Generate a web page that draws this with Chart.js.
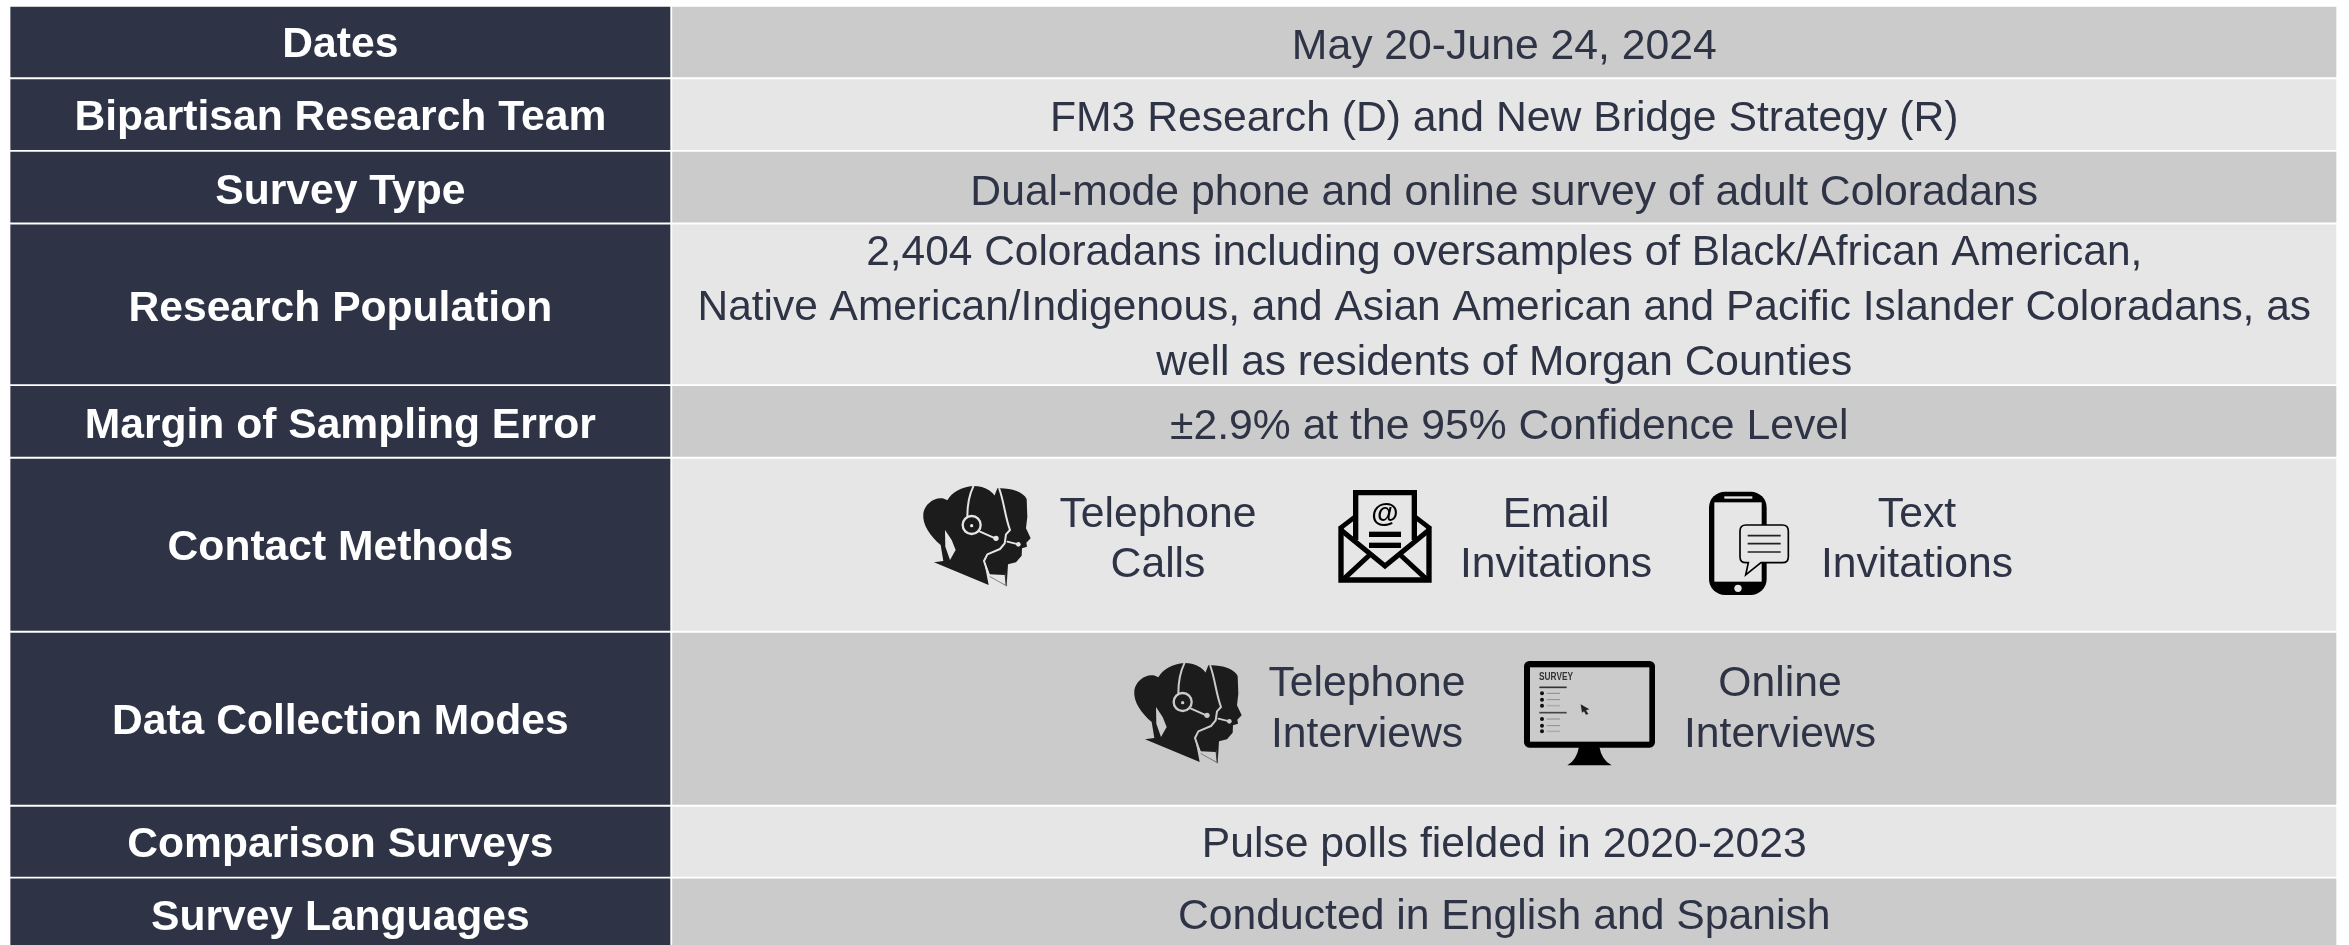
<!DOCTYPE html>
<html>
<head>
<meta charset="utf-8">
<title>Survey methodology</title>
<script src="https://cdn.jsdelivr.net/npm/chart.js@4"></script>
<style>
    html, body { margin: 0; padding: 0; background: #ffffff; overflow: hidden; }
    canvas { display: block; }
</style>
</head>
<body>
<canvas id="table-chart" width="2349" height="945"></canvas>
<script>
// Table contents
const rowLabels = ['Dates', 'Bipartisan Research Team', 'Survey Type', 'Research Population', 'Margin of Sampling Error', 'Contact Methods', 'Data Collection Modes', 'Comparison Surveys', 'Survey Languages'];
const rowHeights = [70, 70, 70, 159, 70, 171.5, 171.3, 69.3, 70];
const rowTexts = [
    ['May 20-June 24, 2024'],
    ['FM3 Research (D) and New Bridge Strategy (R)'],
    ['Dual-mode phone and online survey of adult Coloradans'],
    ['2,404 Coloradans including oversamples of Black/African American,', 'Native American/Indigenous, and Asian American and Pacific Islander Coloradans, as', 'well as residents of Morgan Counties'],
    ['±2.9% at the 95% Confidence Level'],
    [],
    [],
    ['Pulse polls fielded in 2020-2023'],
    ['Conducted in English and Spanish']
];
const contactLabels = [['Telephone', 'Calls'], ['Email', 'Invitations'], ['Text', 'Invitations']];
const modeLabels = [['Telephone', 'Interviews'], ['Online', 'Interviews']];

const tableTop = 7;
const rowGap = 2.6;
const labelColumn = [10.7, 670];
const valueColumn = [672.5, 2336];

// Small per-row text corrections, the source is not set on a perfectly even grid
const labelNudge = [0, 0, 1.5, 1.5, 1.5, 0, 0, 0, 1];
const textNudge = [1.5, 1.5, 3, 1, 3, 0, 0, 0, 0];

const DARK = '#2e3446';
const LIGHT = '#e6e6e6';
const MID = '#cbcbcb';
const INK = '#1c1c1c';
const FONT = '"Liberation Sans", Arial, sans-serif';

// Center of each row on the y axis
const rowCenters = [];
let cursorY = tableTop;
rowHeights.forEach(h => {
    rowCenters.push(cursorY + h / 2);
    cursorY += h + rowGap;
});

function rowColor(i) {
    return i % 2 === 0 ? MID : LIGHT;
}

// One pair of floating bars per row, since barThickness is set per dataset
const datasets = [];
rowLabels.forEach((label, i) => {
    datasets.push({
        label: label,
        data: [{ x: labelColumn, y: rowCenters[i] }],
        backgroundColor: DARK,
        barThickness: rowHeights[i],
        grouped: false
    });
    datasets.push({
        label: label + ' value',
        data: [{ x: valueColumn, y: rowCenters[i] }],
        backgroundColor: rowColor(i),
        barThickness: rowHeights[i],
        grouped: false
    });
});

function line(ctx, points, width, color) {
    ctx.beginPath();
    points.forEach((p, i) => i ? ctx.lineTo(p[0], p[1]) : ctx.moveTo(p[0], p[1]));
    ctx.lineWidth = width;
    ctx.strokeStyle = color;
    ctx.stroke();
}

function fillPoly(ctx, points, color) {
    ctx.beginPath();
    points.forEach((p, i) => i ? ctx.lineTo(p[0], p[1]) : ctx.moveTo(p[0], p[1]));
    ctx.closePath();
    ctx.fillStyle = color;
    ctx.fill();
}

// Icons are drawn in the 3x coordinates of the crop they were measured on
function drawAgents(ctx, x, y, bg) {
    ctx.save();
    ctx.translate(x, y);
    ctx.scale(1 / 3, 1 / 3);
    ctx.lineJoin = 'round';
    ctx.lineCap = 'round';

    // back head
    ctx.beginPath();
    ctx.moveTo(262, 40);
    ctx.bezierCurveTo(300, 38, 340, 50, 350, 72);
    ctx.lineTo(352, 125);
    ctx.lineTo(348, 160);
    ctx.lineTo(362, 190);
    ctx.lineTo(349, 203);
    ctx.lineTo(351, 215);
    ctx.lineTo(336, 220);
    ctx.lineTo(335, 242);
    ctx.lineTo(318, 262);
    ctx.lineTo(294, 268);
    ctx.lineTo(290, 332);
    ctx.lineTo(240, 300);
    ctx.lineTo(200, 200);
    ctx.closePath();
    ctx.fillStyle = INK;
    ctx.fill();

    // front head with ponytail
    ctx.beginPath();
    ctx.moveTo(190, 33);
    ctx.bezierCurveTo(225, 33, 258, 50, 268, 90);
    ctx.bezierCurveTo(272, 120, 285, 145, 300, 165);
    ctx.lineTo(286, 177);
    ctx.lineTo(284, 200);
    ctx.lineTo(270, 217);
    ctx.lineTo(232, 233);
    ctx.lineTo(222, 258);
    ctx.lineTo(236, 330);
    ctx.lineTo(72, 262);
    ctx.lineTo(100, 258);
    ctx.lineTo(92, 210);
    ctx.bezierCurveTo(62, 185, 36, 150, 40, 115);
    ctx.bezierCurveTo(45, 82, 85, 58, 112, 76);
    ctx.bezierCurveTo(125, 52, 155, 36, 190, 33);
    ctx.closePath();
    ctx.fill();

    // outline between the two heads
    ctx.beginPath();
    ctx.moveTo(268, 42);
    ctx.bezierCurveTo(282, 80, 285, 125, 300, 165);
    ctx.lineTo(288, 178);
    ctx.lineTo(284, 205);
    ctx.lineTo(270, 222);
    ctx.lineTo(232, 238);
    ctx.lineTo(222, 258);
    ctx.lineTo(238, 305);
    ctx.lineWidth = 6;
    ctx.strokeStyle = bg;
    ctx.stroke();

    // white collar
    fillPoly(ctx, [[240, 305], [287, 330], [284, 300], [238, 298]], bg);
    line(ctx, [[240, 305], [290, 333], [286, 296]], 2, '#555555');

    // cut out in the hair
    fillPoly(ctx, [[105, 165], [125, 195], [137, 225], [120, 255], [106, 215]], bg);

    // headset
    ctx.beginPath();
    ctx.moveTo(190, 34);
    ctx.bezierCurveTo(175, 65, 172, 95, 172, 124);
    ctx.lineWidth = 6;
    ctx.strokeStyle = bg;
    ctx.stroke();
    ctx.beginPath();
    ctx.arc(185, 150, 27, 0, Math.PI * 2);
    ctx.lineWidth = 7;
    ctx.stroke();
    ctx.beginPath();
    ctx.arc(185, 152, 5, 0, Math.PI * 2);
    ctx.fillStyle = bg;
    ctx.fill();
    line(ctx, [[210, 170], [256, 190]], 6, bg);
    ctx.beginPath();
    ctx.arc(258, 190, 8, 0, Math.PI * 2);
    ctx.fill();
    line(ctx, [[292, 200], [325, 208]], 5, bg);
    ctx.beginPath();
    ctx.arc(325, 208, 7, 0, Math.PI * 2);
    ctx.fill();
    ctx.restore();
}

function drawEmail(ctx, x, y) {
    ctx.save();
    ctx.translate(x, y);
    ctx.scale(1 / 3, 1 / 3);
    ctx.lineJoin = 'miter';
    const black = '#000000';
    // envelope is open at the top, only the flap lines close it
    line(ctx, [[48, 140], [48, 300], [312, 300], [312, 140]], 16, black);
    line(ctx, [[92, 180], [92, 38], [268, 38], [268, 180]], 16, black);
    line(ctx, [[44, 146], [88, 112]], 14, black);
    line(ctx, [[316, 146], [272, 112]], 14, black);
    line(ctx, [[48, 150], [180, 258], [312, 150]], 15, black);
    line(ctx, [[55, 298], [137, 222]], 15, black);
    line(ctx, [[305, 298], [223, 222]], 15, black);
    line(ctx, [[132, 163], [228, 163]], 16, black);
    line(ctx, [[132, 196], [228, 196]], 16, black);
    ctx.restore();

    ctx.save();
    ctx.fillStyle = black;
    ctx.font = 'bold 28px ' + FONT;
    ctx.textAlign = 'center';
    ctx.textBaseline = 'middle';
    ctx.fillText('@', x + 60, y + 34);
    ctx.restore();
}

function drawPhone(ctx, x, y, bg) {
    ctx.save();
    ctx.translate(x, y);
    ctx.scale(1 / 3, 1 / 3);
    ctx.fillStyle = '#000000';
    ctx.beginPath();
    ctx.roundRect(42, 35, 173, 310, 48);
    ctx.fill();
    ctx.fillStyle = bg;
    ctx.fillRect(58, 67, 142, 238);
    ctx.fillRect(88, 49, 84, 7);
    ctx.beginPath();
    ctx.arc(129, 325, 11, 0, Math.PI * 2);
    ctx.fill();

    // speech bubble
    ctx.beginPath();
    ctx.moveTo(153, 135);
    ctx.lineTo(262, 135);
    ctx.quadraticCurveTo(280, 135, 280, 153);
    ctx.lineTo(280, 230);
    ctx.quadraticCurveTo(280, 248, 262, 248);
    ctx.lineTo(198, 248);
    ctx.lineTo(152, 285);
    ctx.lineTo(160, 248);
    ctx.lineTo(153, 248);
    ctx.quadraticCurveTo(135, 248, 135, 230);
    ctx.lineTo(135, 153);
    ctx.quadraticCurveTo(135, 135, 153, 135);
    ctx.closePath();
    ctx.fill();
    ctx.lineWidth = 5;
    ctx.strokeStyle = '#000000';
    ctx.stroke();
    [167, 191, 216].forEach(ly => line(ctx, [[158, ly], [257, ly]], 5, '#222222'));
    ctx.restore();
}

function drawMonitor(ctx, x, y, bg) {
    ctx.save();
    ctx.translate(x, y);
    ctx.scale(1 / 3, 1 / 3);
    ctx.fillStyle = '#000000';
    ctx.beginPath();
    ctx.roundRect(42, 33, 393, 260, 16);
    ctx.fill();
    ctx.fillStyle = bg;
    ctx.fillRect(60, 52, 358, 223);

    // stand
    ctx.fillStyle = '#000000';
    ctx.beginPath();
    ctx.moveTo(207, 290);
    ctx.quadraticCurveTo(200, 330, 172, 346);
    ctx.lineTo(305, 346);
    ctx.quadraticCurveTo(275, 330, 268, 290);
    ctx.closePath();
    ctx.fill();

    // survey form on the screen
    line(ctx, [[88, 112], [170, 112]], 5, '#333333');
    line(ctx, [[88, 188], [170, 188]], 5, '#444444');
    [130, 149, 167, 207, 227, 244].forEach((by, i) => {
        ctx.beginPath();
        ctx.arc(96, by, 6, 0, Math.PI * 2);
        ctx.fillStyle = '#111111';
        ctx.fill();
        line(ctx, [[110, by], [150, by]], i % 3 === 2 ? 5 : 3, i % 3 === 2 ? '#a9adb8' : '#8c8c8c');
    });

    // mouse pointer
    fillPoly(ctx, [[212, 163], [238, 178], [228, 181], [235, 192], [228, 194], [222, 184], [216, 188]], '#222222');
    ctx.restore();

    ctx.save();
    ctx.fillStyle = '#333333';
    ctx.font = 'bold 10px ' + FONT;
    ctx.textAlign = 'left';
    ctx.textBaseline = 'alphabetic';
    ctx.fillText('SURVEY', x + 29, y + 29.5, 34);
    ctx.restore();
}

function drawLines(ctx, lines, cx, firstBaseline, lineHeight) {
    lines.forEach((text, i) => ctx.fillText(text, cx, firstBaseline + i * lineHeight));
}

const tablePlugin = {
    id: 'tablePlugin',
    afterDatasetsDraw(chart) {
        const ctx = chart.ctx;
        const xs = chart.scales.x;
        const ys = chart.scales.y;
        const labelX = xs.getPixelForValue((labelColumn[0] + labelColumn[1]) / 2);
        const valueX = xs.getPixelForValue((valueColumn[0] + valueColumn[1]) / 2);

        ctx.save();
        ctx.textAlign = 'center';
        ctx.textBaseline = 'alphabetic';

        rowLabels.forEach((label, i) => {
            const cy = ys.getPixelForValue(rowCenters[i]);
            ctx.fillStyle = '#ffffff';
            ctx.font = 'bold 42.6px ' + FONT;
            ctx.fillText(label, labelX, cy + 15 + labelNudge[i]);

            const lines = rowTexts[i];
            if (lines.length) {
                ctx.fillStyle = DARK;
                ctx.font = (lines.length > 1 ? '42.45px ' : '42.7px ') + FONT;
                // the sampling error line sits a little right of center in the source
                const textX = i === 4 ? valueX + 5 : valueX;
                drawLines(ctx, lines, textX, cy + 15 + textNudge[i] - (lines.length - 1) * 27.5, 55);
            }
        });

        // Icon rows
        ctx.fillStyle = DARK;
        ctx.font = '42.7px ' + FONT;
        drawLines(ctx, contactLabels[0], 1158, 527, 50);
        drawLines(ctx, contactLabels[1], 1556, 527, 50);
        drawLines(ctx, contactLabels[2], 1917, 527, 50);
        drawLines(ctx, modeLabels[0], 1367, 696, 51);
        drawLines(ctx, modeLabels[1], 1780, 696, 51);
        ctx.restore();

        drawAgents(ctx, 910, 475, LIGHT);
        drawEmail(ctx, 1325, 480);
        drawPhone(ctx, 1695, 480, LIGHT);
        drawAgents(ctx, 1121, 652, MID);
        drawMonitor(ctx, 1510, 650, MID);
    }
};

new Chart(document.getElementById('table-chart').getContext('2d'), {
    type: 'bar',
    data: { datasets: datasets },
    plugins: [tablePlugin],
    options: {
        indexAxis: 'y',
        responsive: false,
        animation: false,
        events: [],
        layout: { padding: 0 },
        scales: {
            x: { type: 'linear', min: 0, max: 2349, display: false },
            y: { type: 'linear', min: 0, max: 945, reverse: true, offset: false, display: false }
        },
        plugins: {
            legend: { display: false },
            title: { display: false },
            tooltip: { enabled: false }
        }
    }
});
</script>
</body>
</html>
